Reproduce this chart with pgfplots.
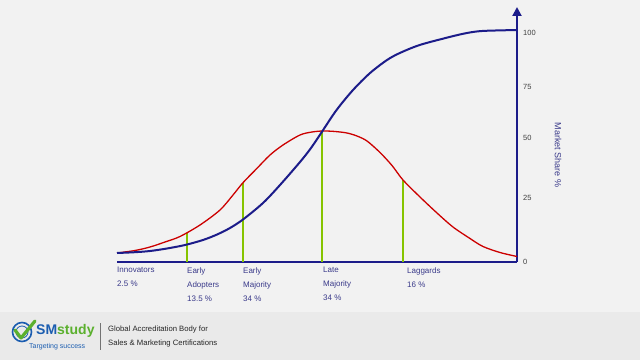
\documentclass[border=0pt]{standalone}
\usepackage{fontspec}
\setmainfont{Liberation Sans}
\usepackage{pgfplots}
\pgfplotsset{compat=1.18}
\usetikzlibrary{arrows.meta}
\definecolor{bg}{HTML}{F2F2F2}
\definecolor{strip}{HTML}{EAEAEA}
\definecolor{navy}{HTML}{1C1C8A}
\definecolor{cred}{HTML}{CC0000}
\definecolor{cgreen}{HTML}{86C400}
\definecolor{labblue}{HTML}{3A3A8A}
\definecolor{smblue}{HTML}{1B5DB0}
\definecolor{smgreen}{HTML}{5BB02E}
\begin{document}
\begin{tikzpicture}[x=1pt,y=1pt]
\fill[bg] (0,0) rectangle (640,360);
\fill[strip] (0,0) rectangle (640,48);
\begin{axis}[
  at={(117pt,98pt)}, anchor=south west,
  scale only axis, width=400pt, height=255pt,
  xmin=0, xmax=100, ymin=0, ymax=111.35,
  axis x line=bottom, axis y line=right,
  x axis line style={-, navy, line width=1.5pt},
  y axis line style={-{Triangle[length=9pt,width=9pt]}, navy, line width=2pt},
  major tick length=0pt,
  xtick={0,17.5,31.5,51.5,72.5},
  xticklabels={{Innovators\\2.5 \%},{Early\\Adopters\\13.5 \%},{Early\\Majority\\34 \%},{Late\\Majority\\34 \%},{Laggards\\16 \%}},
  xticklabel style={anchor=north west, align=left, inner sep=0pt, yshift=-5pt,
    font=\fontsize{8}{14}\selectfont, color=labblue},
  ytick={0,27.9,54.1,76.4,100},
  yticklabels={0,25,50,75,100},
  yticklabel style={anchor=west, inner sep=0pt, xshift=6pt,
    font=\fontsize{7.5}{8}\selectfont, color=black!75},
  /pgf/number format/assume math mode=true,
  clip=false,
]
\addplot[ycomb, cgreen, line width=1.3pt] coordinates {(17.5,12.6) (51.25,57.1) (71.5,35.8)};
\addplot[ycomb, cgreen, line width=2pt] coordinates {(31.5,34.6)};
\addplot[cred, line width=1.3pt, smooth] coordinates {
 (0,3.93) (4.5,5.02) (8.25,6.55) (12,8.73) (15.75,11.14) (20.75,16.16)
 (25.75,22.71) (29,29.26) (31.5,34.63) (35,40.92) (38.25,46.72) (41.5,51.09)
 (45.75,55.46) (48.75,56.77) (51.5,57.21) (54.5,56.99) (57.5,56.33) (60,55.02)
 (62.5,52.84) (65.75,47.82) (68.75,42.14) (71.5,35.81) (75.75,28.38) (80,21.40)
 (84,15.28) (88.25,10.26) (91.5,6.77) (95.75,4.15) (100,2.40)};
\addplot[navy, line width=2pt, smooth] coordinates {
 (0,3.93) (4.5,4.28) (8.25,4.80) (12.5,5.90) (17,7.42) (21.5,9.61) (25,12.0)
 (28.25,14.85) (31.5,18.56) (36.5,25.76) (40.75,33.62) (45.75,43.67) (48.5,49.78)
 (51.25,56.9) (54.9,66.4) (59,75.1) (63.25,82.5) (67.5,88.2) (70.75,91.3)
 (75.75,94.8) (83.25,98.3) (87.5,100) (91.5,100.9) (100,101.3)};
\end{axis}
\node[rotate=-90, color=labblue, font=\fontsize{9}{10}\selectfont] at (558,205) {Market Share \%};
% logo
\draw[smblue, line width=1.6pt] (22,28) circle (9.5);
\draw[smblue, line width=0.8pt] (22,28) circle (6);
\draw[smgreen, line width=3.2pt, line cap=round, line join=round] (15,30) -- (21,22) -- (35,39);
\node[anchor=west, inner sep=0pt, font=\bfseries\fontsize{14}{14}\selectfont] at (36,29)
  {\textcolor{smblue}{SM}\textcolor{smgreen}{study}};
\node[anchor=west, inner sep=0pt, font=\fontsize{7}{8}\selectfont, color=smblue] at (29,13) {Targeting success};
\draw[black!55, line width=0.8pt] (100,37) -- (100,10);
\node[anchor=west, inner sep=0pt, font=\fontsize{7.7}{9}\selectfont, color=black!85] at (108,30) {Global Accreditation Body for};
\node[anchor=west, inner sep=0pt, font=\fontsize{7.7}{9}\selectfont, color=black!85] at (108,16) {Sales \& Marketing Certifications};
\end{tikzpicture}
\end{document}
